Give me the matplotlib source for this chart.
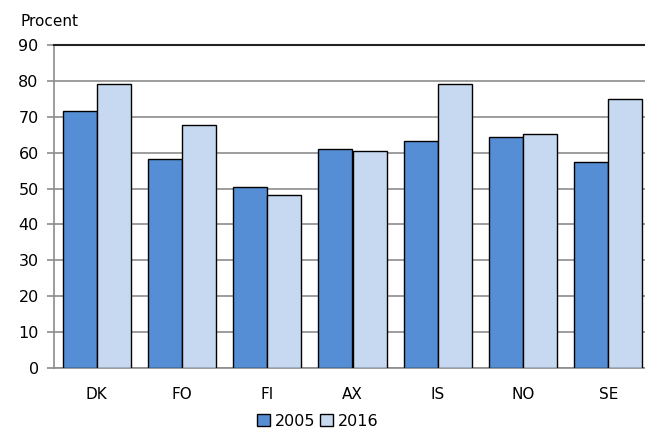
import numpy as np
import matplotlib.pyplot as plt

countries = ['DK', 'FO', 'FI', 'AX', 'IS', 'NO', 'SE']
v2005 = [71.5, 58.1, 50.4, 61.0, 63.2, 64.3, 57.3]
v2016 = [79.1, 67.7, 48.1, 60.5, 79.1, 65.2, 74.9]

plt.rcParams['font.family'] = ['DejaVu Sans']

fig = plt.figure(figsize=(6.45, 4.29), dpi=100)
ax = fig.add_axes([54/645, 1-368/429, 597/645, 323/429])

x = np.arange(len(countries))
w = 0.4
ax.bar(x - w/2, v2005, w, color='#558ED5', edgecolor='black', linewidth=1.0, label='2005', zorder=3)
ax.bar(x + w/2, v2016, w, color='#C6D9F1', edgecolor='black', linewidth=1.0, label='2016', zorder=3)

ax.set_xlim(-0.5, 6.5)
ax.set_ylim(0, 90)
ax.set_yticks(range(0, 91, 10))
ax.yaxis.grid(True, color='#8c8c8c', linewidth=1.2, zorder=0)
ax.set_xticks(x)
ax.set_xticklabels(countries, fontsize=11)
ax.tick_params(axis='x', length=0, pad=14)
ax.tick_params(axis='y', labelsize=11.5, length=5, color='#8c8c8c', width=1.2, pad=6)

ax.spines['right'].set_visible(False)
ax.spines['top'].set_color('#222222')
ax.spines['top'].set_linewidth(1.5)
ax.spines['left'].set_color('#8c8c8c')
ax.spines['left'].set_linewidth(1.2)
ax.spines['bottom'].set_color('#8c8c8c')
ax.spines['bottom'].set_linewidth(1.2)

fig.text(20/645, 1-21/429, 'Procent', fontsize=11, va='center', ha='left')

fig.legend(loc='center', bbox_to_anchor=(318/645, 1-421/429), ncol=2, frameon=False,
           fontsize=11.5, handlelength=0.8, handleheight=0.8, handletextpad=0.3,
           columnspacing=0.3, borderpad=0)

fig.savefig('out.png', dpi=100)
